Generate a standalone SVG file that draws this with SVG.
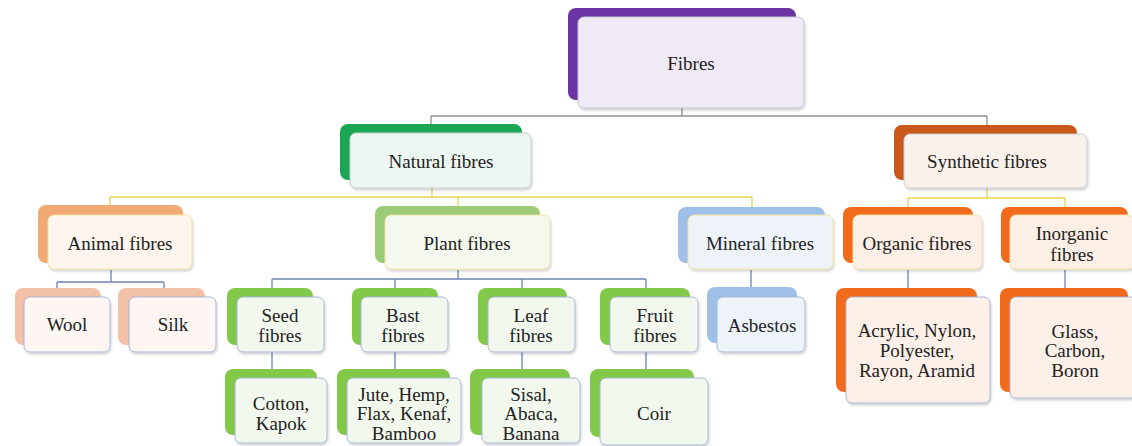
<svg xmlns="http://www.w3.org/2000/svg" width="1132" height="446" viewBox="0 0 1132 446" font-family="'Liberation Serif', 'Times New Roman', 'DejaVu Serif', serif">
<style>
text{font-family:'Liberation Serif','Times New Roman','DejaVu Serif',serif;font-size:19px;fill:#222;text-anchor:middle;dominant-baseline:central}
.b{rx:8;ry:8}
.f{rx:6;ry:6;stroke-width:1}
.c{fill:none;stroke-width:1.3}
.gr{stroke:#8a9099}
.ye{stroke:#e6d450}
.bl{stroke:#6f82b8}
</style>
<defs>
<filter id="sh" x="-10%" y="-10%" width="125%" height="130%">
<feDropShadow dx="1" dy="2" stdDeviation="1.2" flood-color="#000" flood-opacity="0.18"/>
</filter>
</defs>
<rect width="1132" height="446" fill="#ffffff"/>
<g id="connectors">
<path class="c gr" d="M682 108V116M431 116H987M431 116V124M987 116V125"/>
<path class="c ye" d="M432 188V197M110 197H752M110 197V205M458 197V206M752 197V207"/>
<path class="c ye" d="M987 188V198M908 198H1065M908 198V207M1065 198V207"/>
<path class="c bl" d="M111 270V282M57 282H164M57 282V289M164 282V289"/>
<path class="c bl" d="M458 270V279M272 279H646M272 279V288M395 279V288M522 279V288M646 279V288"/>
<path class="c bl" d="M751 270V288"/>
<path class="c bl" d="M908 270V289M1065 270V289"/>
<path class="c bl" d="M272 352V370M395 352V370M522 352V370M646 352V370"/>
</g>
<g id="fibres">
<rect class="b" x="568" y="8" width="228" height="92" fill="#6b34a4"/>
<rect class="f" x="578" y="17" width="226" height="91" fill="#efeaf5" stroke="#c2c6d0" filter="url(#sh)"/>
<text x="691" y="63">Fibres</text>
</g>
<g id="natural">
<rect class="b" x="340" y="124" width="182" height="56" fill="#1aa653"/>
<rect class="f" x="350" y="133" width="181" height="55" fill="#eef6f1" stroke="#c8ccd2" filter="url(#sh)"/>
<text x="441" y="161">Natural fibres</text>
</g>
<g id="synthetic">
<rect class="b" x="894" y="125" width="183" height="55" fill="#c9581a"/>
<rect class="f" x="904" y="134" width="183" height="54" fill="#faf1ea" stroke="#c8ccd2" filter="url(#sh)"/>
<text x="987" y="161">Synthetic fibres</text>
</g>
<g id="animal">
<rect class="b" x="38" y="205" width="145" height="58" fill="#f2aa75"/>
<rect class="f" x="48" y="215" width="144" height="54" fill="#fdf5ee" stroke="#f2e2a2" filter="url(#sh)"/>
<text x="120" y="243">Animal fibres</text>
</g>
<g id="plant">
<rect class="b" x="375" y="206" width="165" height="57" fill="#9ccb78"/>
<rect class="f" x="385" y="215" width="165" height="54" fill="#f4f8ef" stroke="#f2e2a2" filter="url(#sh)"/>
<text x="467" y="243">Plant fibres</text>
</g>
<g id="mineral">
<rect class="b" x="678" y="207" width="147" height="56" fill="#9ec0e8"/>
<rect class="f" x="688" y="215" width="145" height="54" fill="#eef3fa" stroke="#f2e2a2" filter="url(#sh)"/>
<text x="760" y="243">Mineral fibres</text>
</g>
<g id="organic">
<rect class="b" x="843" y="207" width="130" height="56" fill="#f26a1c"/>
<rect class="f" x="853" y="215" width="129" height="54" fill="#fcefe6" stroke="#f2e2a2" filter="url(#sh)"/>
<text x="917" y="243">Organic fibres</text>
</g>
<g id="inorganic">
<rect class="b" x="1001" y="207" width="127" height="56" fill="#f26a1c"/>
<rect class="f" x="1010" y="215" width="124" height="54" fill="#fcefe6" stroke="#f2e2a2" filter="url(#sh)"/>
<text x="1072" y="233">Inorganic</text>
<text x="1072" y="254">fibres</text>
</g>
<g id="wool">
<rect class="b" x="15" y="288" width="86" height="57" fill="#f2c1a8"/>
<rect class="f" x="24" y="297" width="86" height="55" fill="#fdf6f2" stroke="#a9b8d8" filter="url(#sh)"/>
<text x="67" y="324">Wool</text>
</g>
<g id="silk">
<rect class="b" x="118" y="288" width="87" height="57" fill="#f2c1a8"/>
<rect class="f" x="129" y="297" width="87" height="55" fill="#fdf6f2" stroke="#a9b8d8" filter="url(#sh)"/>
<text x="173" y="324">Silk</text>
</g>
<g id="seed">
<rect class="b" x="227" y="288" width="86" height="57" fill="#82c94a"/>
<rect class="f" x="237" y="297" width="87" height="55" fill="#f3f8ee" stroke="#a9b8d8" filter="url(#sh)"/>
<text x="280" y="315">Seed</text>
<text x="280" y="335">fibres</text>
</g>
<g id="bast">
<rect class="b" x="352" y="288" width="86" height="57" fill="#82c94a"/>
<rect class="f" x="361" y="297" width="87" height="55" fill="#f3f8ee" stroke="#a9b8d8" filter="url(#sh)"/>
<text x="403" y="315">Bast</text>
<text x="403" y="335">fibres</text>
</g>
<g id="leaf">
<rect class="b" x="478" y="288" width="89" height="57" fill="#82c94a"/>
<rect class="f" x="488" y="297" width="87" height="55" fill="#f3f8ee" stroke="#a9b8d8" filter="url(#sh)"/>
<text x="531" y="315">Leaf</text>
<text x="531" y="335">fibres</text>
</g>
<g id="fruit">
<rect class="b" x="600" y="288" width="90" height="57" fill="#82c94a"/>
<rect class="f" x="610" y="297" width="88" height="55" fill="#f3f8ee" stroke="#a9b8d8" filter="url(#sh)"/>
<text x="655" y="315">Fruit</text>
<text x="655" y="335">fibres</text>
</g>
<g id="asbestos">
<rect class="b" x="707" y="287" width="90" height="56" fill="#9ec0e8"/>
<rect class="f" x="717" y="297" width="88" height="55" fill="#eef3fa" stroke="#a9b8d8" filter="url(#sh)"/>
<text x="762" y="325">Asbestos</text>
</g>
<g id="cotton">
<rect class="b" x="225" y="369" width="92" height="66" fill="#82c94a"/>
<rect class="f" x="235" y="378" width="92" height="65" fill="#f3f8ee" stroke="#a9b8d8" filter="url(#sh)"/>
<text x="281" y="403">Cotton,</text>
<text x="281" y="423">Kapok</text>
</g>
<g id="jute">
<rect class="b" x="337" y="369" width="113" height="66" fill="#82c94a"/>
<rect class="f" x="347" y="378" width="114" height="65" fill="#f3f8ee" stroke="#a9b8d8" filter="url(#sh)"/>
<text x="404" y="394">Jute, Hemp,</text>
<text x="404" y="413">Flax, Kenaf,</text>
<text x="404" y="433">Bamboo</text>
</g>
<g id="sisal">
<rect class="b" x="470" y="369" width="100" height="66" fill="#82c94a"/>
<rect class="f" x="482" y="378" width="98" height="65" fill="#f3f8ee" stroke="#a9b8d8" filter="url(#sh)"/>
<text x="531" y="394">Sisal,</text>
<text x="531" y="413">Abaca,</text>
<text x="531" y="433">Banana</text>
</g>
<g id="coir">
<rect class="b" x="590" y="369" width="104" height="68" fill="#82c94a"/>
<rect class="f" x="600" y="378" width="108" height="67" fill="#f3f8ee" stroke="#a9b8d8" filter="url(#sh)"/>
<text x="654" y="413">Coir</text>
</g>
<g id="acrylic">
<rect class="b" x="836" y="288" width="141" height="104" fill="#f26a1c"/>
<rect class="f" x="846" y="297" width="144" height="106" fill="#fcf0e8" stroke="#a9b8d8" filter="url(#sh)"/>
<text x="917" y="330">Acrylic, Nylon,</text>
<text x="917" y="350">Polyester,</text>
<text x="917" y="370">Rayon, Aramid</text>
</g>
<g id="glass">
<rect class="b" x="1000" y="288" width="128" height="104" fill="#f26a1c"/>
<rect class="f" x="1010" y="297" width="126" height="101" fill="#fcf0e8" stroke="#a9b8d8" filter="url(#sh)"/>
<text x="1075" y="331">Glass,</text>
<text x="1075" y="350">Carbon,</text>
<text x="1075" y="370">Boron</text>
</g>
</svg>
